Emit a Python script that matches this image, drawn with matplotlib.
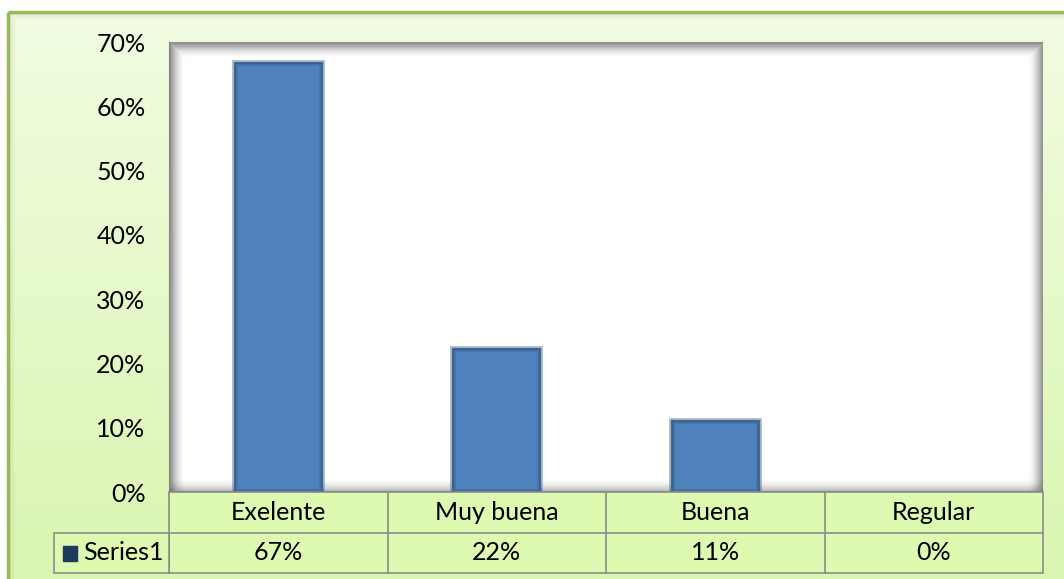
import numpy as np
import matplotlib.pyplot as plt
from matplotlib.patches import Rectangle

categories = ['Exelente', 'Muy buena', 'Buena', 'Regular']
values = [0.6667, 0.2222, 0.1111, 0.0]
value_labels = ['67%', '22%', '11%', '0%']
series_name = 'Series1'
yticks = [0, 0.1, 0.2, 0.3, 0.4, 0.5, 0.6, 0.7]

plt.rcParams['font.family'] = ['Lato', 'DejaVu Sans']
FS = 18
W, H = 1064, 579
fig = plt.figure(figsize=(W / 100, H / 100), dpi=100)
fig.patch.set_facecolor('white')

# background of the chart area: light green gradient with green border
bg = fig.add_axes([0, 0, 1, 1])
bg.set_xlim(0, W)
bg.set_ylim(H, 0)
bg.axis('off')
grad = np.linspace(0, 1, 256).reshape(-1, 1)
top = np.array([0.945, 0.988, 0.882])
bot = np.array([0.855, 0.965, 0.690])
img = top + (bot - top) * grad[..., None]
bg.imshow(img.reshape(256, 1, 3), extent=[9, W + 10, H + 10, 13], aspect='auto')
bg.add_patch(Rectangle((8, 12), W + 20, H + 20, fill=False, edgecolor='#9bbb59', lw=2.5))
# soft inner shadow along border
for k in range(6):
    bg.add_patch(Rectangle((9 + k, 13 + k), W, H, fill=False,
                           edgecolor='#8a9a70', lw=1, alpha=0.12 - k * 0.018))

# plot area
L, T, R, B = 169, 42, 1043, 492
ax = fig.add_axes([L / W, 1 - B / H, (R - L) / W, (B - T) / H])
ax.set_facecolor('white')
x = np.arange(len(categories))
lws = [1.2 if v > 0 else 0 for v in values]
ax.bar(x, values, width=0.4, color='#4f81bd', edgecolor='#34577f', linewidth=lws, zorder=3)
# darker inner edge on the bars
ax.bar(x, values, width=0.4, color='none', edgecolor='#3b6290',
       linewidth=[4 if v > 0 else 0 for v in values], alpha=0.5, zorder=4)
ax.set_xlim(-0.5, len(categories) - 0.5)
ax.set_ylim(0, 0.7)
ax.set_yticks(yticks)
ax.set_yticklabels([f'{int(round(t * 100))}%' for t in yticks], fontsize=FS)
ax.tick_params(axis='y', length=0, pad=17)
ax.set_xticks([])
for s in ax.spines.values():
    s.set_visible(False)
ax.spines['left'].set_visible(True)
ax.spines['left'].set_color('#868686')
# inner shadow on top/left/right of plot area
for k in range(16):
    a = 0.6 * (1 - k / 16) ** 2
    ax.add_patch(Rectangle((k / (R - L), 0), 1 - 2 * k / (R - L), 1 - k / (B - T),
                           transform=ax.transAxes, fill=False, edgecolor='#505050',
                           lw=1, alpha=a, zorder=2))
for k in range(14):
    a = 0.4 * (1 - k / 14) ** 2
    ax.plot([0, 1], [k / (B - T), k / (B - T)], transform=ax.transAxes,
            color='#505050', lw=1, alpha=a, zorder=2)

# data table below the plot area
tab = fig.add_axes([L / W, 1 - 573 / H, (R - L) / W, 81 / H])
tab.set_xlim(-0.5, len(categories) - 0.5)
tab.set_ylim(0, 2)
tab.axis('off')
cell = '#def9b0'
edge = '#8c8c8c'
label_left = -0.5 - 115 / ((R - L) / len(categories))
tab.add_patch(Rectangle((-0.5, 0), len(categories), 2, facecolor=cell, edgecolor=edge, lw=1.2, clip_on=False))
tab.add_patch(Rectangle((label_left, 0), -0.5 - label_left, 1, facecolor=cell, edgecolor=edge, lw=1.2, clip_on=False))
tab.plot([-0.5, len(categories) - 0.5], [1, 1], color=edge, lw=1.2, clip_on=False)
for i in range(1, len(categories)):
    tab.plot([i - 0.5, i - 0.5], [0, 2], color=edge, lw=1.2, clip_on=False)
for i, (c, v) in enumerate(zip(categories, value_labels)):
    tab.text(i, 1.5, c, ha='center', va='center', fontsize=FS, color='black')
    tab.text(i, 0.5, v, ha='center', va='center', fontsize=FS, color='black')
tab.add_patch(Rectangle((label_left + 0.04, 0.3), 0.066, 0.36, facecolor='#1f3a5f',
                        edgecolor='#1f3a5f', clip_on=False))
tab.text(label_left + 0.135, 0.5, series_name, ha='left', va='center', fontsize=FS, color='black')

fig.savefig('out.png', dpi=100, facecolor=fig.get_facecolor())
